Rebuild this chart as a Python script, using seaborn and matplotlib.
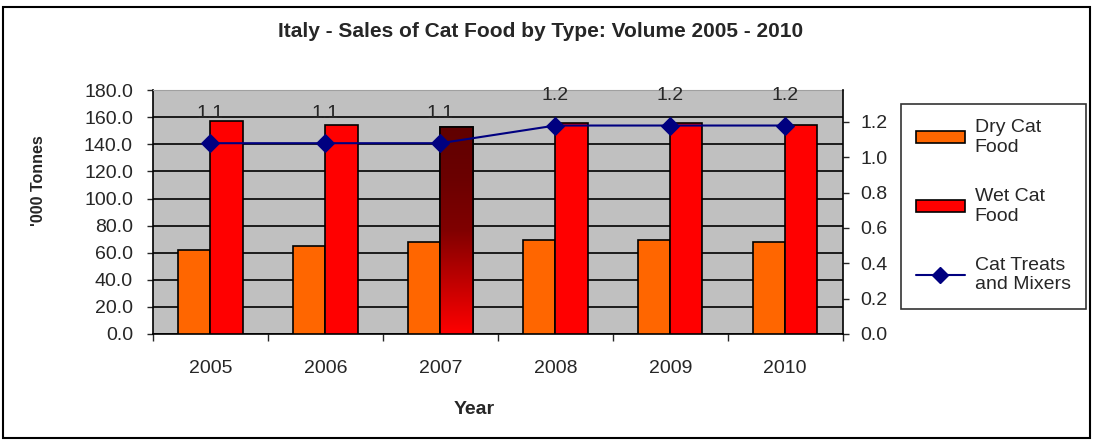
import numpy as np
import pandas as pd
import matplotlib
matplotlib.use("Agg")
import matplotlib.pyplot as plt
import seaborn as sns
from matplotlib.lines import Line2D
from matplotlib.patches import Patch, Rectangle
from matplotlib.colors import LinearSegmentedColormap

## Dados
anos = ['2005', '2006', '2007', '2008', '2009', '2010']
seco = [62.0, 65.0, 67.6, 69.3, 69.3, 67.6]
umido = [157.3, 154.6, 152.9, 156.0, 156.0, 154.6]
petiscos = [1.08, 1.08, 1.08, 1.18, 1.18, 1.18]
rotulos_petiscos = ['1.1', '1.1', '1.1', '1.2', '1.2', '1.2']
series = ['Dry Cat\nFood', 'Wet Cat\nFood']

df = pd.DataFrame({
    'ano': anos * 2,
    'valor': seco + umido,
    'tipo': [series[0]] * len(anos) + [series[1]] * len(anos),
})

sns.set_style('white')
plt.rcParams['font.family'] = ['Liberation Sans', 'DejaVu Sans']

fig = plt.figure(figsize=(10.93, 4.4), dpi=100)
ax = fig.add_axes([0.140, 0.241, 0.631, 0.554])
ax.set_facecolor('#C0C0C0')

sns.barplot(data=df, x='ano', y='valor', hue='tipo', hue_order=series,
            palette=['#FF6600', '#FF0000'], width=0.56, gap=0,
            edgecolor='black', linewidth=1.2, saturation=1, legend=False, ax=ax, zorder=3)

## gradiente na barra de 2007 (úmido)
barras = [p for p in ax.patches if isinstance(p, Rectangle)]
b = barras[6 + 2]
x0, y0 = b.get_x(), b.get_y()
w, h = b.get_width(), b.get_height()
cmap = LinearSegmentedColormap.from_list('grad', ['#FF0000', '#C00000', '#800000', '#6B0000', '#600000'])
grad = np.linspace(0, 1, 256).reshape(-1, 1)
img = ax.imshow(grad, cmap=cmap, aspect='auto', extent=[x0, x0 + w, y0, y0 + h],
                origin='lower', zorder=3.5)
img.set_clip_path(b)
ax.add_patch(Rectangle((x0, y0), w, h, fill=False, edgecolor='black', linewidth=1.2, zorder=4))

ax.set_ylim(0, 180)
ax.set_xlim(-0.5, 5.5)
ax.set_yticks(np.arange(0, 181, 20))
ax.set_yticklabels([f'{v:.1f}' for v in np.arange(0, 181, 20)], fontsize=14)
ax.yaxis.grid(True, color='black', linewidth=1.2, zorder=1)
ax.set_axisbelow(True)
ax.tick_params(axis='y', direction='out', length=4.5, width=1, left=True, pad=10)
ax.tick_params(axis='x', which='major', length=0, labelsize=14, pad=19)
ax.set_xticks(np.arange(-0.5, 6, 1), minor=True)
ax.tick_params(axis='x', which='minor', direction='out', length=5, width=1, bottom=True)
ax.set_xlabel('Year', fontsize=14, fontweight='bold')
ax.xaxis.set_label_coords(0.465, -0.275)
ax.set_ylabel("'000 Tonnes", fontsize=11.5, fontweight='bold')
ax.yaxis.set_label_coords(-0.155, 0.627)
for lado in ['left', 'bottom']:
    ax.spines[lado].set_color('black')
    ax.spines[lado].set_linewidth(1.2)
ax.spines['top'].set_color('#A0A0A0')
ax.spines['right'].set_visible(False)

ax2 = ax.twinx()
sns.lineplot(x=np.arange(len(anos)), y=petiscos, color='#000080', marker='D',
             markersize=9, markeredgecolor='#000080', linewidth=1.5, ax=ax2, zorder=5)
ax2.set_ylim(0, 1.38)
ax2.set_yticks(np.arange(0, 1.21, 0.2))
ax2.set_yticklabels([f'{v:.1f}' for v in np.arange(0, 1.21, 0.2)], fontsize=14)
ax2.tick_params(axis='y', direction='out', length=4.5, width=1, right=True, pad=8)
for s in ['left', 'top', 'bottom']:
    ax2.spines[s].set_visible(False)
ax2.spines['right'].set_color('black')
ax2.spines['right'].set_linewidth(1.2)
for i, (v, r) in enumerate(zip(petiscos, rotulos_petiscos)):
    ax2.annotate(r, (i, v), xytext=(0, 21.5), textcoords='offset points',
                 ha='center', va='center', fontsize=14, annotation_clip=False)

fig.text(0.495, 0.928, 'Italy - Sales of Cat Food by Type: Volume 2005 - 2010',
         ha='center', va='center', fontsize=15, fontweight='bold')

handles = [Patch(facecolor='#FF6600', edgecolor='black', linewidth=1.2),
           Patch(facecolor='#FF0000', edgecolor='black', linewidth=1.2),
           Line2D([], [], color='#000080', marker='D', markersize=8, linewidth=1.5)]
labels = series + ['Cat Treats\nand Mixers']
leg = fig.legend(handles, labels, loc='upper left', bbox_to_anchor=(0.824, 0.764),
                 fontsize=14, frameon=True, fancybox=False, edgecolor='black',
                 labelspacing=1.65, handlelength=2.5, handleheight=0.55,
                 handletextpad=0.5, borderpad=0.8, borderaxespad=0)
leg.get_frame().set_linewidth(1.2)

fig.patches.append(Rectangle((0.003, 0.005), 0.994, 0.98, transform=fig.transFigure,
                             fill=False, edgecolor='black', linewidth=1.5))

fig.savefig('out.png', dpi=100)
